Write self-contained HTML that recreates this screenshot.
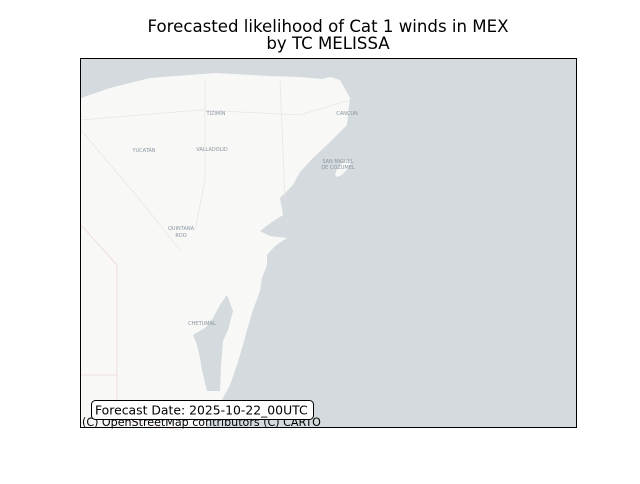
<!DOCTYPE html>
<html><head><meta charset="utf-8"><style>
body{margin:0;background:#fff;width:640px;height:480px;overflow:hidden;font-family:"DejaVu Sans","Liberation Sans",sans-serif}
</style></head><body>
<svg width="640" height="480">
<text x="328" y="32" text-anchor="middle" font-size="16.6">Forecasted likelihood of Cat 1 winds in MEX</text>
<text x="328" y="49" text-anchor="middle" font-size="16.6">by TC MELISSA</text>
<g>
<rect x="80.5" y="58.5" width="496" height="369" fill="#d4dadd"/>
<polygon fill="#f8f8f7" points="81,98 110,88 150,78 215,73 270,76 300,77 322,79 330,77 340,80 350,98 347,125 330,142 313,158 300,172 293,185 280,198 283,215 272,222 260,231 270,236 287,238 275,246 267,255 267,265 262,278 260,291 253,310 247,330 243,345 237,365 230,385 222,400 212,418 205,428 81,428"/>
<polygon fill="#d4dadd" points="227,295 233,311 228,330 223,341 221,365 220,391 207,391 202,370 200,358 197,345 193,335 205,328 213,318 220,305"/>
<ellipse cx="343" cy="168" rx="4" ry="11" transform="rotate(40 343 168)" fill="#f8f8f7"/>
<g fill="none" stroke="#e6e6e6" stroke-width="0.8">
<path d="M81,120 L200,110 L300,115 L350,100"/><path d="M205,80 L205,180 L195,230"/><path d="M280,80 L285,200"/><path d="M81,130 L140,200 L180,250"/>
</g>
<path d="M81,225 L117,265 L117,428 M117,375 L81,375 M120,420 L180,430" fill="none" stroke="#eed6d6" stroke-width="0.8"/>
<g font-size="5" fill="#8a96a0" text-anchor="middle">
<text x="216" y="115">TIZIMÍN</text><text x="347" y="115">CANCUN</text><text x="144" y="152">YUCATÁN</text><text x="212" y="151">VALLADOLID</text>
<text x="338" y="163">SAN MIGUEL</text><text x="338" y="169">DE COZUMEL</text><text x="181" y="230">QUINTANA</text><text x="181" y="237">ROO</text><text x="202" y="325">CHETUMAL</text>
</g>
<rect x="80.5" y="58.5" width="496" height="369" fill="none" stroke="#000" stroke-width="1"/>
</g>
<text x="82" y="426" font-size="11.1">(C) OpenStreetMap contributors (C) CARTO</text>
<rect x="91.5" y="400.5" width="222" height="19" rx="4" fill="#fff" stroke="#000"/>
<text x="95" y="414.5" font-size="12.4">Forecast Date: 2025-10-22_00UTC</text>
</svg>
</body></html>
